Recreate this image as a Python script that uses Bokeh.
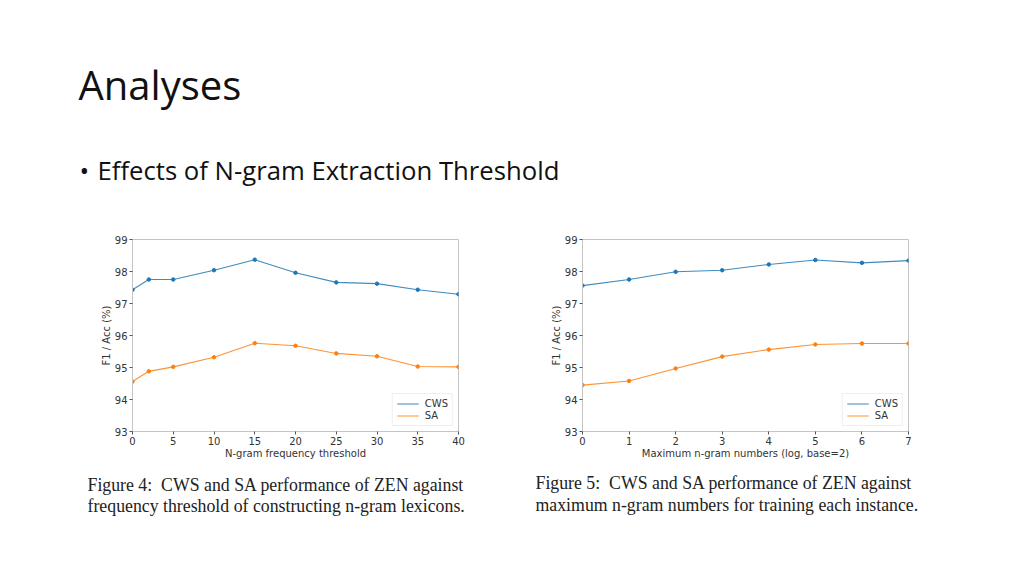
from bokeh.plotting import figure
from bokeh.layouts import column, row
from bokeh.models import Range1d, FixedTicker, Legend, LegendItem
from bokeh.core.properties import value
from bokeh.embed import file_html
from bokeh.resources import INLINE

# ---------------- data ----------------
slide_title = "Analyses"
bullet_text = "Effects of N-gram Extraction Threshold"

fig4_x = [0, 2, 5, 10, 15, 20, 25, 30, 35, 40]
fig4_cws = [97.43, 97.75, 97.75, 98.04, 98.37, 97.96, 97.66, 97.62, 97.43, 97.29]
fig4_sa = [94.56, 94.88, 95.02, 95.32, 95.76, 95.68, 95.44, 95.35, 95.03, 95.02]
fig4_xticks = [0, 5, 10, 15, 20, 25, 30, 35, 40]
fig4_xlabel = "N-gram frequency threshold"
fig4_caption = ["Figure 4:\u00a0 CWS and SA performance of ZEN against",
                "frequency threshold of constructing n-gram lexicons."]

fig5_x = [0, 1, 2, 3, 4, 5, 6, 7]
fig5_cws = [97.56, 97.75, 97.99, 98.04, 98.22, 98.36, 98.27, 98.34]
fig5_sa = [94.45, 94.58, 94.97, 95.34, 95.56, 95.72, 95.75, 95.75]
fig5_xticks = [0, 1, 2, 3, 4, 5, 6, 7]
fig5_xlabel = "Maximum n-gram numbers (log, base=2)"
fig5_caption = ["Figure 5:\u00a0 CWS and SA performance of ZEN against",
                "maximum n-gram numbers for training each instance."]

y_ticks = [93, 94, 95, 96, 97, 98, 99]
y_label = "F1 / Acc (%)"
series_names = ["CWS", "SA"]
series_colors = ["#1f77b4", "#ff7f0e"]

W = 1008
TOP_H = 205
ROW_H = 265
CAP_H = 62


def blank(width, height):
    f = figure(width=width, height=height, output_backend="svg", toolbar_location=None,
               x_range=Range1d(0, width), y_range=Range1d(height, 0), title=None,
               min_border=0, outline_line_color=None)
    f.axis.visible = False
    f.grid.visible = False
    return f


# ---------------- slide header ----------------
top = blank(W, TOP_H)
top.text(x=[78], y=[84], text=[slide_title], text_font=value("Open Sans"),
         text_font_size="40px", text_color="#111111", text_baseline="alphabetic")
top.text(x=[79], y=[170], text=["\u2022"], text_font=value("Open Sans"),
         text_font_size="25.7px", text_color="#111111", text_baseline="alphabetic")
top.text(x=[97], y=[170], text=[bullet_text], text_font=value("Open Sans"),
         text_font_size="25.7px", text_color="#111111", text_baseline="alphabetic")


def chart(xs, cws, sa, xticks, xmax, xlabel, width, bl, br, bt, bb):
    p = figure(width=width, height=ROW_H, output_backend="svg", toolbar_location=None,
               x_range=Range1d(0, xmax), y_range=Range1d(93, 99), title=None,
               min_border_left=bl, min_border_right=br, min_border_top=bt,
               min_border_bottom=bb, outline_line_color="#c4c4c4",
               outline_line_width=1)
    p.grid.visible = False
    p.xaxis.ticker = FixedTicker(ticks=xticks)
    p.yaxis.ticker = FixedTicker(ticks=y_ticks)
    for ax in (p.xaxis, p.yaxis):
        ax.axis_line_color = "#c4c4c4"
        ax.major_tick_line_color = "#555555"
        ax.major_tick_out = 3
        ax.major_tick_in = 0
        ax.minor_tick_line_color = None
        ax.major_label_text_font = "DejaVu Sans"
        ax.major_label_text_font_size = "10px"
        ax.major_label_text_color = "#333333"
        ax.major_label_standoff = 2
        ax.axis_label_text_font = "DejaVu Sans"
        ax.axis_label_text_font_size = "10px"
        ax.axis_label_text_font_style = "normal"
        ax.axis_label_text_color = "#333333"
        ax.axis_label_standoff = 0
    p.xaxis.axis_label = xlabel
    p.yaxis.axis_label = y_label
    items = []
    for name, ys, col in zip(series_names, [cws, sa], series_colors):
        l = p.line(xs, ys, line_color=col, line_width=1.1, line_alpha=0.85)
        p.scatter(xs, ys, size=3.5, color=col, marker="circle")
        items.append(LegendItem(label=name, renderers=[l]))
    leg = Legend(items=items, location="bottom_right",
                 label_text_font="DejaVu Sans", label_text_font_size="10px",
                 label_text_color="#333333", glyph_width=22, glyph_height=11,
                 label_height=11, spacing=1, padding=4, margin=5,
                 label_standoff=6,
                 border_line_color="#dddddd", background_fill_alpha=0.9)
    p.add_layout(leg)
    return p


p1 = chart(fig4_x, fig4_cws, fig4_sa, fig4_xticks, 40, fig4_xlabel,
           522, 132, 64, 34, 38)
p2 = chart(fig5_x, fig5_cws, fig5_sa, fig5_xticks, 7, fig5_xlabel,
           486, 60, 100, 30, 39)

# ---------------- captions ----------------
cap = blank(W, CAP_H)
for i, line in enumerate(fig4_caption):
    cap.text(x=[87], y=[14 + 21 * i], text=[line], text_font=value("Liberation Serif"),
             text_font_size="17.8px", text_color="#222222", text_baseline="middle")
for i, line in enumerate(fig5_caption):
    cap.text(x=[535], y=[12 + 22 * i], text=[line], text_font=value("Liberation Serif"),
             text_font_size="17.8px", text_color="#222222", text_baseline="middle")

layout = column(top, row(p1, p2), cap)
open("out.html", "w").write(file_html(layout, INLINE))
